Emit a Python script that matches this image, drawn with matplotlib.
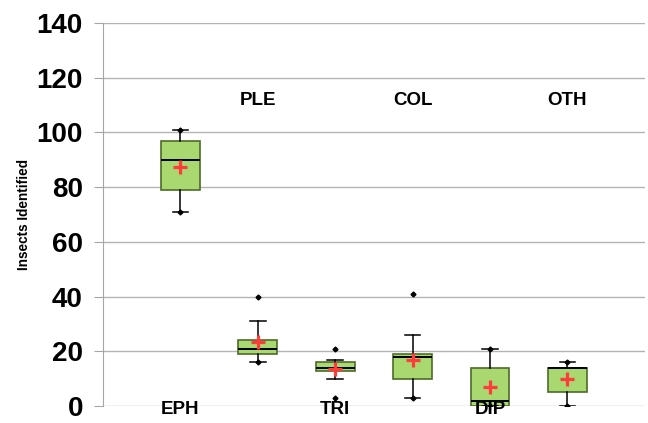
import matplotlib
matplotlib.use('Agg')
import matplotlib.pyplot as plt

plt.rcParams['font.family'] = ['Liberation Sans', 'DejaVu Sans']

# categories and five-number summaries
cats = ['EPH', 'PLE', 'TRI', 'COL', 'DIP', 'OTH']
q1 = [79, 19, 13, 10, 0, 5]
med = [90, 21, 14, 18, 2, 14]
q3 = [97, 24, 16, 19, 14, 14]
whislo = [71, 16, 10, 3, 0, 0]
whishi = [101, 31, 17, 26, 21, 16]
means = [87.5, 23.5, 13.5, 17, 7, 10]
# min / max / outlier points shown as dots
points = [[101, 71], [40, 16], [21, 3], [41, 3], [21, 0], [16, 0]]

yticks = [0, 20, 40, 60, 80, 100, 120, 140]


def main():
    fig = plt.figure(figsize=(6.48, 4.23), dpi=100)
    ax = fig.add_axes([0.159, 0.040, 0.836, 0.9056])

    stats = []
    for i in range(len(cats)):
        stats.append(dict(label=cats[i], q1=q1[i], med=med[i], q3=q3[i],
                          whislo=whislo[i], whishi=whishi[i],
                          mean=means[i], fliers=points[i]))

    pos = list(range(1, len(cats) + 1))
    ax.bxp(stats, positions=pos, widths=0.5, capwidths=0.2,
           patch_artist=True, showmeans=True,
           boxprops=dict(facecolor='#A9D870', edgecolor='#4E6B2A', linewidth=1.2),
           medianprops=dict(color='black', linewidth=1.4),
           whiskerprops=dict(color='black', linewidth=1.1),
           capprops=dict(color='black', linewidth=1.1),
           meanprops=dict(marker='+', markersize=10, markeredgewidth=2.3,
                          markeredgecolor='#FF3B3B'),
           flierprops=dict(marker='D', markersize=2.5, markerfacecolor='black',
                           markeredgecolor='black'),
           zorder=3)

    # staggered category labels inside the plot
    for i, c in enumerate(cats):
        y = -1.2 if i % 2 == 0 else 111.5
        ax.text(pos[i], y, c, ha='center', va='center', fontsize=13.5,
                fontweight='bold', zorder=4)

    ax.set_xlim(0, len(cats) + 1)
    ax.set_ylim(0, 140)
    ax.set_yticks(yticks)
    ax.set_xticks([])
    ax.set_yticklabels([str(t) for t in yticks], fontsize=20, fontweight='bold')
    ax.tick_params(axis='y', length=6.5, color='#A6A6A6', pad=8)
    ax.yaxis.grid(True, color='#B3B3B3', linewidth=1.0, zorder=0)
    ax.set_axisbelow(True)
    for s in ['top', 'right', 'bottom']:
        ax.spines[s].set_visible(False)
    ax.spines['left'].set_color('#A6A6A6')
    ax.set_ylabel('Insects Identified', fontsize=9.8, fontweight='bold')
    ax.yaxis.set_label_coords(-0.133, 0.5)
    ax.patch.set_visible(False)

    fig.savefig('out.png', dpi=100)


if __name__ == '__main__':
    main()
